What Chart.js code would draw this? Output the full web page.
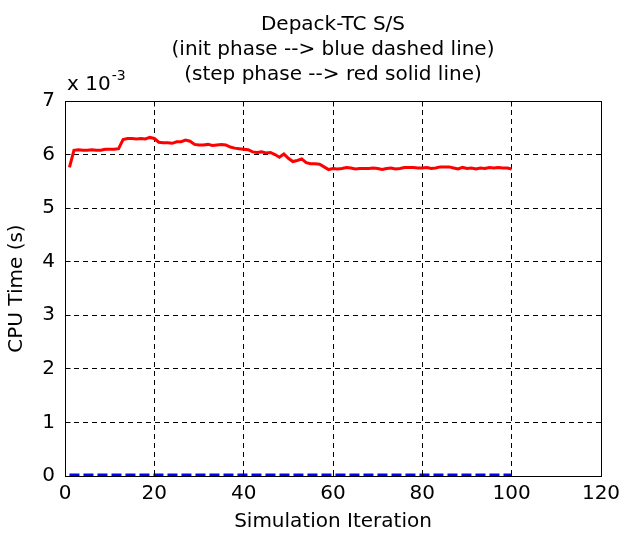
<!DOCTYPE html>
<html>
<head>
<meta charset="utf-8">
<title>Depack-TC S/S</title>
<script src="https://cdn.jsdelivr.net/npm/chart.js@4.4.0/dist/chart.umd.min.js"></script>
<style>
  html, body { margin: 0; padding: 0; background: #fff; }
  canvas { display: block; }
</style>
</head>
<body>
<canvas id="cpuChart" width="621" height="534"></canvas>
<script>
// chart text
const titleLines = ['Depack-TC S/S', '(init phase --> blue dashed line)', '(step phase --> red solid line)'];
const xLabel = 'Simulation Iteration';
const yLabel = 'CPU Time (s)';

// simulation iterations (x)
const iterations = [
  1, 2, 3, 4, 5, 6, 7, 8, 9, 10,
  11, 12, 13, 14, 15, 16, 17, 18, 19, 20,
  21, 22, 23, 24, 25, 26, 27, 28, 29, 30,
  31, 32, 33, 34, 35, 36, 37, 38, 39, 40,
  41, 42, 43, 44, 45, 46, 47, 48, 49, 50,
  51, 52, 53, 54, 55, 56, 57, 58, 59, 60,
  61, 62, 63, 64, 65, 66, 67, 68, 69, 70,
  71, 72, 73, 74, 75, 76, 77, 78, 79, 80,
  81, 82, 83, 84, 85, 86, 87, 88, 89, 90,
  91, 92, 93, 94, 95, 96, 97, 98, 99, 100
];

// CPU time in units of 10^-3 s
const stepTime = [
  5.76, 6.08, 6.09, 6.08, 6.08, 6.09, 6.08, 6.08, 6.10, 6.10,
  6.10, 6.11, 6.28, 6.30, 6.30, 6.29, 6.30, 6.29, 6.32, 6.30,
  6.23, 6.22, 6.22, 6.21, 6.24, 6.24, 6.27, 6.25, 6.19, 6.18,
  6.18, 6.19, 6.17, 6.18, 6.19, 6.18, 6.14, 6.12, 6.11, 6.10,
  6.09, 6.05, 6.04, 6.05, 6.03, 6.04, 6.00, 5.95, 6.01, 5.93,
  5.87, 5.89, 5.92, 5.85, 5.83, 5.83, 5.82, 5.77, 5.72, 5.74,
  5.73, 5.74, 5.76, 5.75, 5.73, 5.74, 5.74, 5.74, 5.75, 5.74,
  5.72, 5.74, 5.75, 5.73, 5.74, 5.76, 5.76, 5.76, 5.75, 5.75,
  5.76, 5.74, 5.75, 5.77, 5.77, 5.77, 5.75, 5.73, 5.76, 5.74,
  5.75, 5.73, 5.75, 5.74, 5.76, 5.75, 5.76, 5.75, 5.75, 5.73
];
const initTime = [
  0.02, 0.02, 0.02, 0.02, 0.02, 0.02, 0.02, 0.02, 0.02, 0.02,
  0.02, 0.02, 0.02, 0.02, 0.02, 0.02, 0.02, 0.02, 0.02, 0.02,
  0.02, 0.02, 0.02, 0.02, 0.02, 0.02, 0.02, 0.02, 0.02, 0.02,
  0.02, 0.02, 0.02, 0.02, 0.02, 0.02, 0.02, 0.02, 0.02, 0.02,
  0.02, 0.02, 0.02, 0.02, 0.02, 0.02, 0.02, 0.02, 0.02, 0.02,
  0.02, 0.02, 0.02, 0.02, 0.02, 0.02, 0.02, 0.02, 0.02, 0.02,
  0.02, 0.02, 0.02, 0.02, 0.02, 0.02, 0.02, 0.02, 0.02, 0.02,
  0.02, 0.02, 0.02, 0.02, 0.02, 0.02, 0.02, 0.02, 0.02, 0.02,
  0.02, 0.02, 0.02, 0.02, 0.02, 0.02, 0.02, 0.02, 0.02, 0.02,
  0.02, 0.02, 0.02, 0.02, 0.02, 0.02, 0.02, 0.02, 0.02, 0.02
];

const xTicks = [0, 20, 40, 60, 80, 100, 120];
const yTicks = [0, 1, 2, 3, 4, 5, 6, 7];

const FONT = 'DejaVu Sans';

// same pixel snapping Chart.js uses for 1px grid lines
const snap = p => Math.round(p - 0.5) + 0.5;

// box, inward ticks, multi-line title and the x 10^-3 multiplier
const matlabFrame = {
  id: 'matlabFrame',
  afterDraw(chart) {
    const { ctx, chartArea: a, scales: { x, y } } = chart;
    const l = snap(x.getPixelForValue(xTicks[0]));
    const r = snap(x.getPixelForValue(xTicks[xTicks.length - 1]));
    const b = snap(y.getPixelForValue(yTicks[0]));
    const t = snap(y.getPixelForValue(yTicks[yTicks.length - 1]));
    ctx.save();
    ctx.strokeStyle = '#000';
    ctx.lineWidth = 1;
    ctx.setLineDash([]);
    ctx.strokeRect(l, t, r - l, b - t);

    ctx.beginPath();
    x.ticks.forEach(tk => {
      const px = snap(x.getPixelForValue(tk.value));
      ctx.moveTo(px, b); ctx.lineTo(px, b - 5);
      ctx.moveTo(px, t); ctx.lineTo(px, t + 5);
    });
    y.ticks.forEach(tk => {
      const py = snap(y.getPixelForValue(tk.value));
      ctx.moveTo(l, py); ctx.lineTo(l + 5, py);
      ctx.moveTo(r, py); ctx.lineTo(r - 5, py);
    });
    ctx.stroke();

    ctx.fillStyle = '#000';
    ctx.font = '20px "' + FONT + '"';
    ctx.textAlign = 'center';
    ctx.textBaseline = 'alphabetic';
    const cx = (a.left + a.right) / 2;
    titleLines.forEach((line, i) => ctx.fillText(line, cx, 30 + i * 25));

    ctx.textAlign = 'left';
    const base = 'x 10';
    ctx.fillText(base, a.left + 2, a.top - 11);
    const w = ctx.measureText(base).width;
    ctx.font = '14px "' + FONT + '"';
    ctx.fillText('-3', a.left + 2 + w + 1, a.top - 21);
    ctx.restore();
  }
};

const axisFont = { family: FONT, size: 20 };

new Chart(document.getElementById('cpuChart'), {
  type: 'line',
  data: {
    datasets: [
      {
        label: 'step phase',
        data: iterations.map((it, i) => ({ x: it, y: stepTime[i] })),
        borderColor: '#ff0000',
        borderWidth: 3,
        pointRadius: 0,
        tension: 0,
        fill: false
      },
      {
        label: 'init phase',
        data: iterations.map((it, i) => ({ x: it, y: initTime[i] })),
        borderColor: '#0000ff',
        borderWidth: 3,
        borderDash: [10, 4],
        pointRadius: 0,
        tension: 0,
        fill: false
      }
    ]
  },
  options: {
    responsive: false,
    animation: false,
    layout: { padding: { top: 101, right: 20, left: 0, bottom: 0 } },
    plugins: {
      legend: { display: false },
      tooltip: { enabled: false },
      title: { display: false }
    },
    scales: {
      x: {
        type: 'linear',
        min: 0,
        max: 120,
        afterBuildTicks: s => { s.ticks = xTicks.map(v => ({ value: v })); },
        afterFit: s => { s.height = 58; s.paddingRight = 0; s.paddingLeft = 0; },
        grid: { color: '#000', lineWidth: 1, drawTicks: false },
        border: { display: false, dash: [5, 4] },
        ticks: { color: '#000', font: axisFont, padding: 6, maxRotation: 0, autoSkip: false },
        title: { display: true, text: xLabel, color: '#000', font: axisFont, padding: { top: 0, bottom: 0 } }
      },
      y: {
        type: 'linear',
        min: 0,
        max: 7,
        afterBuildTicks: s => { s.ticks = yTicks.map(v => ({ value: v })); },
        afterFit: s => { s.width = 65; },
        grid: { color: '#000', lineWidth: 1, drawTicks: false },
        border: { display: false, dash: [5, 4] },
        ticks: { color: '#000', font: axisFont, padding: 10 },
        title: { display: true, text: yLabel, color: '#000', font: axisFont, padding: { top: 5, bottom: 0 } }
      }
    }
  },
  plugins: [matlabFrame]
});
</script>
</body>
</html>
